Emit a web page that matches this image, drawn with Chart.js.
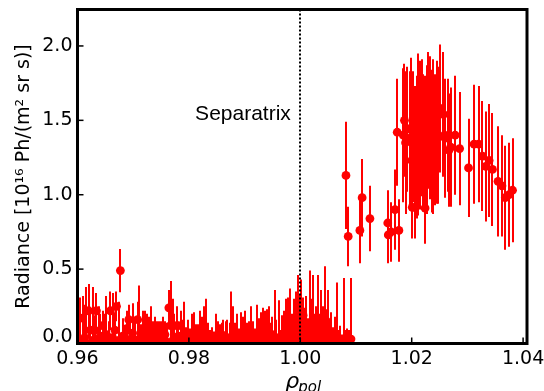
<!DOCTYPE html>
<html>
<head>
<meta charset="utf-8">
<script src="https://cdn.jsdelivr.net/npm/chart.js@4.4.1/dist/chart.umd.min.js"></script>
<style>
  html, body { margin: 0; padding: 0; background: #ffffff; }
  #wrap { width: 544px; height: 391px; }
</style>
</head>
<body>
<div id="wrap"><canvas id="radianceChart"></canvas></div>
<script>
// Radiance profile vs rho_pol (units of 1e16 Ph/(m^2 sr s))

// near-zero signal, 0.96 .. 1.009
const lowRho = [
  0.9602, 0.9605, 0.9609, 0.9613, 0.9616, 0.9620, 0.9623, 0.9627, 0.9631, 0.9634,
  0.9638, 0.9641, 0.9645, 0.9649, 0.9652, 0.9656, 0.9659, 0.9663, 0.9667, 0.9670,
  0.9674, 0.9677, 0.9681, 0.9685, 0.9688, 0.9692, 0.9695, 0.9699,
  0.9703, 0.9708, 0.9711, 0.9714, 0.9718, 0.9721, 0.9725, 0.9728, 0.9732, 0.9735,
  0.9739, 0.9742, 0.9746, 0.9750, 0.9753, 0.9757, 0.9760, 0.9764, 0.9767, 0.9771,
  0.9774, 0.9778, 0.9781, 0.9785, 0.9788, 0.9792, 0.9795, 0.9799,
  0.9802, 0.9806, 0.9809, 0.9813, 0.9816, 0.9820, 0.9823, 0.9827, 0.9830, 0.9834,
  0.9838, 0.9841, 0.9845, 0.9848, 0.9852, 0.9855, 0.9859, 0.9862, 0.9866, 0.9869,
  0.9873, 0.9876, 0.9880, 0.9883, 0.9887, 0.9890, 0.9894, 0.9897,
  0.9901, 0.9905, 0.9908, 0.9912, 0.9915, 0.9919, 0.9922, 0.9926, 0.9929, 0.9933,
  0.9936, 0.9940, 0.9943, 0.9947, 0.9950, 0.9954, 0.9957, 0.9961, 0.9964, 0.9968,
  0.9971, 0.9975, 0.9978, 0.9982, 0.9985, 0.9989, 0.9992, 0.9996, 0.9999,
  1.0002, 1.0005, 1.0008, 1.0011, 1.0014, 1.0017, 1.0020, 1.0023, 1.0026, 1.0029,
  1.0032, 1.0035, 1.0038, 1.0041, 1.0044, 1.0047, 1.0050, 1.0053, 1.0056, 1.0059,
  1.0062, 1.0065, 1.0068, 1.0071, 1.0074, 1.0078, 1.0081, 1.0084, 1.0088, 1.0091
];
const lowRad = [
  0.03, 0.01, 0.17, 0.04, 0.00, 0.22, 0.09, 0.02, 0.09, 0.22,
  0.03, 0.05, 0.12, 0.02, 0.06, 0.01, 0.22, 0.04, 0.09, 0.25,
  0.02, 0.49, 0.05, 0.02, 0.10, 0.16, 0.03, 0.07,
  0.02, 0.16, 0.03, 0.01, 0.06, 0.02, 0.08, 0.03, 0.01, 0.05,
  0.02, 0.07, 0.01, 0.04, 0.02, 0.06, 0.01, 0.24, 0.12, 0.02,
  0.12, 0.03, 0.05, 0.12, 0.02, 0.04, 0.01, 0.03,
  0.02, 0.05, 0.01, 0.03, 0.06, 0.02, 0.04, 0.01, 0.05, 0.02,
  0.03, 0.01, 0.04, 0.02, 0.05, 0.01, 0.06, 0.02, 0.03, 0.01,
  0.04, 0.02, 0.05, 0.02, 0.04, 0.01, 0.03, 0.06,
  0.02, 0.04, 0.01, 0.05, 0.03, 0.02, 0.06, 0.03, 0.05, 0.02,
  0.04, 0.01, 0.05, 0.02, 0.06, 0.02, 0.04, 0.03, 0.01, 0.05,
  0.02, 0.06, 0.03, 0.05, 0.02, 0.04, 0.01, 0.06, 0.03,
  0.05, 0.19, 0.04, 0.02, 0.07, 0.03, 0.05, 0.02, 0.12, 0.15,
  0.04, 0.02, 0.06, 0.03, 0.05, 0.15, 0.02, 0.04, 0.01, 0.03,
  0.02, 0.01, 0.03, 0.02, 0.01, 0.02, 0.03, 0.02, 0.03, 0.03
];
const lowErr = [
  0.12, 0.30, 0.15, 0.22, 0.38, 0.18, 0.12, 0.36, 0.10, 0.12,
  0.22, 0.15, 0.10, 0.18, 0.26, 0.14, 0.13, 0.30, 0.12, 0.10,
  0.26, 0.145, 0.12, 0.10, 0.12, 0.10, 0.14, 0.20,
  0.16, 0.12, 0.36, 0.12, 0.16, 0.20, 0.12, 0.15, 0.24, 0.10,
  0.16, 0.08, 0.14, 0.11, 0.16, 0.09, 0.13, 0.12, 0.30, 0.28,
  0.08, 0.22, 0.10, 0.10, 0.14, 0.24, 0.10, 0.13,
  0.08, 0.15, 0.20, 0.10, 0.07, 0.20, 0.14, 0.24, 0.25, 0.12,
  0.06, 0.10, 0.04, 0.18, 0.10, 0.12, 0.08, 0.14, 0.12, 0.15,
  0.10, 0.33, 0.20, 0.12, 0.16, 0.09, 0.18, 0.12,
  0.20, 0.10, 0.14, 0.20, 0.12, 0.08, 0.20, 0.14, 0.16, 0.22,
  0.18, 0.22, 0.20, 0.12, 0.12, 0.34, 0.12, 0.26, 0.08, 0.14,
  0.20, 0.24, 0.28, 0.32, 0.18, 0.26, 0.34, 0.40, 0.30,
  0.38, 0.12, 0.20, 0.30, 0.10, 0.46, 0.25, 0.44, 0.08, 0.10,
  0.42, 0.18, 0.30, 0.22, 0.47, 0.08, 0.34, 0.12, 0.20, 0.08,
  0.16, 0.40, 0.06, 0.10, 0.05, 0.42, 0.06, 0.08, 0.06, 0.41
];

// emission peak outside the separatrix
const peakRho = [
  1.0082, 1.0086, 1.0107, 1.0111, 1.0125, 1.0157, 1.0158, 1.0163, 1.0170, 1.0174,
  1.0177, 1.0185, 1.0187, 1.0189, 1.0191, 1.0197, 1.0199, 1.0200, 1.0201, 1.0203,
  1.0206, 1.0206, 1.0209, 1.0211, 1.0212, 1.0215, 1.0219, 1.0221, 1.0223, 1.0224,
  1.0227, 1.0230, 1.0233, 1.0236, 1.0239, 1.0242, 1.0245, 1.0248, 1.0251, 1.0257,
  1.0260, 1.0266, 1.0267, 1.0270, 1.0278, 1.0286, 1.0302, 1.0312, 1.0320, 1.0327,
  1.0333, 1.0339, 1.0345, 1.0355, 1.0362, 1.0368, 1.0375, 1.0381
];
const peakRad = [
  1.13, 0.72, 0.76, 0.98, 0.84, 0.81, 0.73, 0.75, 0.90, 1.42,
  0.76, 1.40, 1.50, 1.35, 1.44, 1.38, 1.45, 1.23, 0.915, 1.39,
  1.28, 0.915, 1.32, 1.36, 1.53, 1.40, 1.45, 1.35, 1.30, 0.91,
  1.37, 1.50, 1.45, 1.36, 1.39, 1.37, 1.42, 1.40, 1.58, 1.54,
  1.38, 1.40, 1.30, 1.32, 1.40, 1.31, 1.18, 1.34, 1.34, 1.26,
  1.19, 1.23, 1.17, 1.09, 1.06, 0.98, 1.00, 1.03
];
const peakErr = [
  0.36, 0.20, 0.22, 0.26, 0.22, 0.22, 0.19, 0.20, 0.27, 0.36,
  0.21, 0.45, 0.38, 0.48, 0.42, 0.45, 0.47, 0.40, 0.21, 0.44,
  0.45, 0.21, 0.48, 0.50, 0.42, 0.50, 0.46, 0.46, 0.50, 0.24,
  0.50, 0.46, 0.48, 0.48, 0.52, 0.44, 0.48, 0.46, 0.43, 0.42,
  0.40, 0.38, 0.38, 0.40, 0.40, 0.38, 0.33, 0.40, 0.39, 0.37,
  0.37, 0.38, 0.38, 0.37, 0.34, 0.35, 0.35, 0.35
];

const xTicks = [0.96, 0.98, 1.00, 1.02, 1.04];
const yTicks = [0.0, 0.5, 1.0, 1.5, 2.0];
const separatrixRho = 1.00;
const separatrixLabel = 'Separatrix';
const yTitle = 'Radiance [10\u00b9\u2076 Ph/(m\u00b2 sr s)]';

const RED = '#ff0000';
const FONT = "'DejaVu Sans', sans-serif";

function toPoints(xs, ys, es) {
  return xs.map((x, i) => ({ x: x, y: ys[i], err: es[i] }));
}

// vertical error bars, drawn under the markers
const errorBars = {
  id: 'errorBars',
  beforeDatasetsDraw(chart) {
    const { ctx, chartArea, scales } = chart;
    ctx.save();
    ctx.beginPath();
    ctx.rect(chartArea.left, chartArea.top, chartArea.width, chartArea.height);
    ctx.clip();
    ctx.strokeStyle = RED;
    ctx.lineWidth = 2;
    chart.data.datasets.forEach(ds => {
      ds.data.forEach(p => {
        const px = Math.round(scales.x.getPixelForValue(p.x));
        ctx.beginPath();
        ctx.moveTo(px, scales.y.getPixelForValue(p.y - p.err));
        ctx.lineTo(px, scales.y.getPixelForValue(p.y + p.err));
        ctx.stroke();
      });
    });
    ctx.restore();
  }
};

// dotted separatrix line + its label
const separatrix = {
  id: 'separatrix',
  afterDatasetsDraw(chart) {
    const { ctx, chartArea, scales } = chart;
    const px = Math.round(scales.x.getPixelForValue(separatrixRho));
    ctx.save();
    ctx.strokeStyle = '#000';
    ctx.lineWidth = 2;
    ctx.setLineDash([2, 2]);
    ctx.beginPath();
    ctx.moveTo(px, chartArea.bottom);
    ctx.lineTo(px, chartArea.top);
    ctx.stroke();
    ctx.setLineDash([]);
    ctx.fillStyle = '#000';
    ctx.font = "21px 'Liberation Sans', Arial, sans-serif";
    ctx.textAlign = 'right';
    ctx.textBaseline = 'alphabetic';
    ctx.fillText(separatrixLabel, scales.x.getPixelForValue(0.9983), scales.y.getPixelForValue(1.50));
    ctx.restore();
  }
};

// thick frame, inward ticks and the rho_pol title
const frame = {
  id: 'frame',
  afterDraw(chart) {
    const { ctx, chartArea, scales } = chart;
    ctx.save();
    ctx.strokeStyle = '#000';
    ctx.lineWidth = 1.5;
    xTicks.forEach(v => {
      const px = scales.x.getPixelForValue(v);
      ctx.beginPath();
      ctx.moveTo(px, chartArea.bottom);
      ctx.lineTo(px, chartArea.bottom - 6);
      ctx.stroke();
    });
    yTicks.forEach(v => {
      const py = scales.y.getPixelForValue(v);
      ctx.beginPath();
      ctx.moveTo(chartArea.left, py);
      ctx.lineTo(chartArea.left + 6, py);
      ctx.stroke();
    });
    ctx.lineWidth = 3;
    ctx.strokeRect(chartArea.left, chartArea.top, chartArea.width, chartArea.height);

    ctx.fillStyle = '#000';
    ctx.textBaseline = 'alphabetic';
    ctx.textAlign = 'left';
    const cx = (chartArea.left + chartArea.right) / 2;
    ctx.font = 'italic 22px ' + FONT;
    ctx.fillText('\u03c1', cx - 17, 388);
    ctx.font = 'italic 15px ' + FONT;
    ctx.fillText('pol', cx - 4, 392);
    ctx.restore();
  }
};

new Chart(document.getElementById('radianceChart'), {
  type: 'scatter',
  data: {
    datasets: [
      {
        label: 'edge',
        data: toPoints(lowRho, lowRad, lowErr),
        backgroundColor: RED,
        borderColor: RED,
        borderWidth: 0,
        pointRadius: 4.4,
        pointHoverRadius: 4.4
      },
      {
        label: 'peak',
        data: toPoints(peakRho, peakRad, peakErr),
        backgroundColor: RED,
        borderColor: RED,
        borderWidth: 0,
        pointRadius: 4.4,
        pointHoverRadius: 4.4
      }
    ]
  },
  options: {
    responsive: true,
    maintainAspectRatio: false,
    animation: false,
    devicePixelRatio: 1,
    layout: { padding: { top: 9.5, right: 17, bottom: 0, left: 0 } },
    plugins: {
      legend: { display: false },
      tooltip: { enabled: false }
    },
    scales: {
      x: {
        type: 'linear',
        min: 0.96,
        max: 1.0407,
        afterBuildTicks: s => { s.ticks = xTicks.map(v => ({ value: v })); },
        afterFit: s => { s.height = 47.5; s.paddingLeft = 0; s.paddingRight = 0; },
        grid: { display: false, drawTicks: false },
        border: { display: false },
        ticks: {
          color: '#000',
          padding: 4,
          font: { family: FONT, size: 19 },
          maxRotation: 0,
          callback: v => v.toFixed(2)
        }
      },
      y: {
        type: 'linear',
        min: 0,
        max: 2.245,
        afterBuildTicks: s => { s.ticks = yTicks.map(v => ({ value: v })); },
        afterFit: s => { s.width = 77.5; s.paddingTop = 0; s.paddingBottom = 0; },
        grid: { display: false, drawTicks: false },
        border: { display: false },
        ticks: {
          color: '#000',
          padding: 5,
          font: c => ({ family: FONT, size: 19, lineHeight: (c.tick && c.tick.value === 0) ? 0.7 : 1.2 }),
          callback: v => v === 0 ? ['0.0', ''] : v.toFixed(1)
        },
        title: {
          display: true,
          text: yTitle,
          color: '#000',
          font: { family: FONT, size: 19 },
          padding: { top: 12.5, bottom: 0 }
        }
      }
    }
  },
  plugins: [errorBars, separatrix, frame]
});
</script>
</body>
</html>
